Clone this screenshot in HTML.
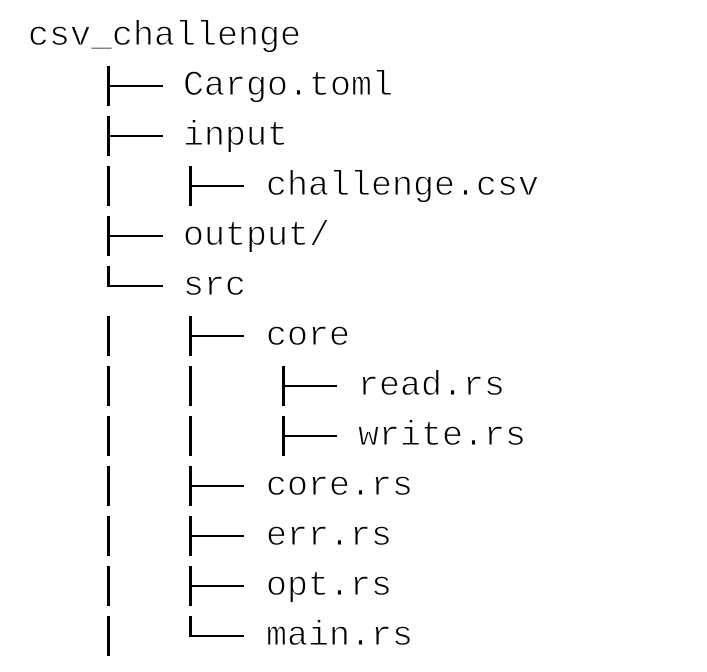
<!DOCTYPE html>
<html><head><meta charset="utf-8"><style>
html,body{margin:0;padding:0;background:#fff;width:707px;height:672px;overflow:hidden;position:relative}
.t{position:absolute;font-family:"Liberation Mono",monospace;font-size:35px;line-height:50px;height:50px;white-space:pre;color:#000;-webkit-text-stroke:0.9px #fff;paint-order:normal}
.v,.h{position:absolute;background:#000}
</style></head><body>
<div class="t" style="left:28px;top:11px">csv_challenge</div>
<div class="t" style="left:183px;top:61px">Cargo.toml</div>
<div class="t" style="left:183px;top:111px">input</div>
<div class="t" style="left:266px;top:161px">challenge.csv</div>
<div class="t" style="left:183px;top:211px">output/</div>
<div class="t" style="left:183px;top:261px">src</div>
<div class="t" style="left:266px;top:311px">core</div>
<div class="t" style="left:358px;top:361px">read.rs</div>
<div class="t" style="left:358px;top:411px">write.rs</div>
<div class="t" style="left:266px;top:461px">core.rs</div>
<div class="t" style="left:266px;top:511px">err.rs</div>
<div class="t" style="left:266px;top:561px">opt.rs</div>
<div class="t" style="left:266px;top:611px">main.rs</div>

<div class="v" style="left:107px;top:66px;width:3px;height:40px"></div><div class="h" style="left:107px;top:85px;width:56px;height:2px"></div>
<div class="v" style="left:107px;top:116px;width:3px;height:40px"></div><div class="h" style="left:107px;top:135px;width:56px;height:2px"></div>
<div class="v" style="left:107px;top:166px;width:3px;height:40px"></div>
<div class="v" style="left:107px;top:216px;width:3px;height:40px"></div><div class="h" style="left:107px;top:235px;width:56px;height:2px"></div>
<div class="v" style="left:107px;top:266px;width:3px;height:21px"></div><div class="h" style="left:107px;top:285px;width:56px;height:2px"></div>
<div class="v" style="left:107px;top:316px;width:3px;height:40px"></div>
<div class="v" style="left:107px;top:366px;width:3px;height:40px"></div>
<div class="v" style="left:107px;top:416px;width:3px;height:40px"></div>
<div class="v" style="left:107px;top:466px;width:3px;height:40px"></div>
<div class="v" style="left:107px;top:516px;width:3px;height:40px"></div>
<div class="v" style="left:107px;top:566px;width:3px;height:40px"></div>
<div class="v" style="left:107px;top:616px;width:3px;height:40px"></div>

<div class="v" style="left:189px;top:166px;width:3px;height:40px"></div><div class="h" style="left:189px;top:185px;width:55px;height:2px"></div>
<div class="v" style="left:189px;top:316px;width:3px;height:40px"></div><div class="h" style="left:189px;top:335px;width:55px;height:2px"></div>
<div class="v" style="left:189px;top:366px;width:3px;height:40px"></div>
<div class="v" style="left:189px;top:416px;width:3px;height:40px"></div>
<div class="v" style="left:189px;top:466px;width:3px;height:40px"></div><div class="h" style="left:189px;top:485px;width:55px;height:2px"></div>
<div class="v" style="left:189px;top:516px;width:3px;height:40px"></div><div class="h" style="left:189px;top:535px;width:55px;height:2px"></div>
<div class="v" style="left:189px;top:566px;width:3px;height:40px"></div><div class="h" style="left:189px;top:585px;width:55px;height:2px"></div>
<div class="v" style="left:189px;top:616px;width:3px;height:21px"></div><div class="h" style="left:189px;top:635px;width:55px;height:2px"></div>

<div class="v" style="left:282px;top:366px;width:3px;height:40px"></div><div class="h" style="left:282px;top:385px;width:55px;height:2px"></div>
<div class="v" style="left:282px;top:416px;width:3px;height:40px"></div><div class="h" style="left:282px;top:435px;width:55px;height:2px"></div>
</body></html>
